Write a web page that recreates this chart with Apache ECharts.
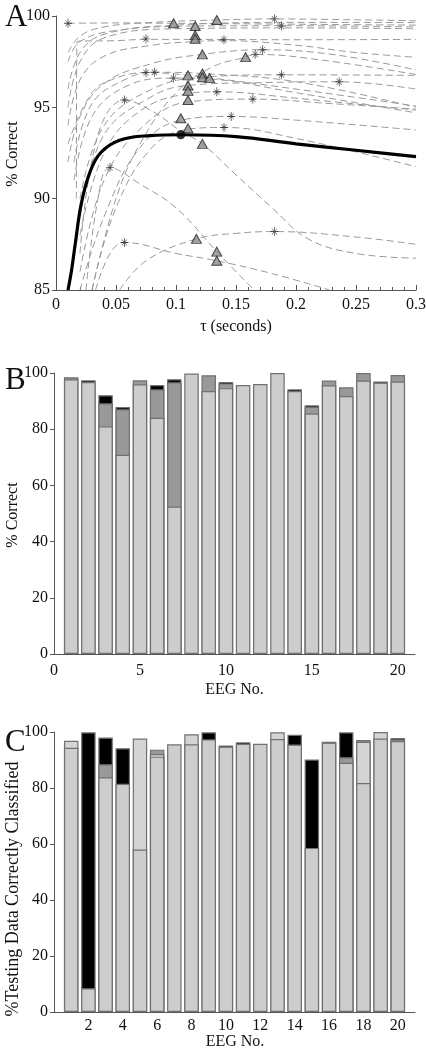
<!DOCTYPE html>
<html><head><meta charset="utf-8">
<script src="https://cdn.jsdelivr.net/npm/echarts@6/dist/echarts.min.js"></script>
<style>html,body{margin:0;padding:0;background:#fff}#c{width:426px;height:1050px}</style>
</head><body><div id="c"></div>
<script>
// ---------- Panel A data: tau (s) vs % correct ----------
const curve01 = [[0.01,99.6],[0.05,99.62],[0.1,99.6],[0.2,99.55],[0.3,99.5]];
const curve02 = [[0.01,98.0],[0.02,98.9],[0.04,99.4],[0.08,99.65],[0.134,99.78],[0.182,99.84],[0.24,99.8],[0.3,99.74]];
const curve03 = [[0.01,97.5],[0.02,98.6],[0.05,99.2],[0.116,99.45],[0.188,99.47],[0.3,99.4]];
const curve04 = [[0.01,96.0],[0.02,98.0],[0.04,99.0],[0.1,99.5],[0.2,99.65],[0.3,99.64]];
const curve05 = [[0.01,95.0],[0.02,97.5],[0.04,98.8],[0.1,99.3],[0.2,99.35],[0.3,99.3]];
const curve06 = [[0.017,90.0],[0.0175,98.6],[0.05,98.65],[0.075,98.72],[0.116,98.72],[0.2,98.7],[0.3,98.72]];
const curve07 = [[0.01,94.0],[0.02,96.5],[0.04,97.8],[0.08,98.4],[0.116,98.6],[0.14,98.65],[0.2,98.4],[0.25,98.0],[0.3,97.74]];
const curve08 = [[0.01,92.0],[0.02,94.5],[0.04,96.3],[0.08,97.4],[0.122,97.9],[0.172,98.15],[0.23,97.9],[0.3,97.05]];
const curve09 = [[0.03,85.0],[0.05,90.0],[0.07,93.0],[0.1,95.8],[0.13,97.2],[0.158,97.75],[0.166,97.9],[0.22,97.6],[0.3,96.8]];
const curve10 = [[0.01,93.0],[0.03,95.8],[0.05,96.6],[0.075,96.9],[0.11,96.75],[0.2,96.0],[0.3,95.07]];
const curve11 = [[0.015,92.0],[0.03,95.2],[0.06,96.6],[0.082,96.92],[0.122,96.85],[0.2,96.4],[0.3,95.0]];
const curve12 = [[0.015,91.0],[0.03,94.5],[0.06,96.2],[0.098,96.6],[0.128,96.55],[0.2,95.8],[0.3,94.7]];
const curve13 = [[0.02,90.0],[0.04,94.0],[0.08,96.0],[0.122,96.65],[0.188,96.78],[0.3,96.75]];
const curve14 = [[0.02,89.0],[0.04,93.5],[0.08,95.6],[0.11,96.2],[0.17,96.35],[0.236,96.4],[0.3,96.0]];
const curve15 = [[0.02,88.0],[0.04,92.5],[0.07,94.8],[0.11,95.75],[0.134,95.85],[0.2,95.5],[0.3,94.85]];
const curve16 = [[0.02,86.0],[0.04,91.0],[0.07,93.8],[0.11,95.3],[0.164,95.45],[0.23,95.2],[0.3,94.9]];
const curve17 = [[0.02,87.0],[0.035,93.5],[0.057,95.4],[0.08,94.8],[0.104,93.7],[0.122,93.0],[0.15,91.3],[0.18,89.5],[0.21,87.8],[0.25,87.0],[0.3,86.74]];
const curve18 = [[0.02,85.0],[0.04,89.0],[0.07,92.8],[0.104,94.3],[0.146,94.5],[0.2,94.3],[0.3,93.76]];
const curve19 = [[0.03,85.0],[0.05,89.5],[0.08,92.8],[0.11,93.8],[0.14,93.9],[0.2,93.3],[0.3,91.75]];
const curve20 = [[0.025,85.0],[0.035,90.0],[0.045,91.7],[0.07,90.8],[0.1,89.5],[0.134,87.1],[0.165,85.0]];
const curve21 = [[0.033,85.0],[0.045,87.0],[0.057,87.6],[0.1,87.0],[0.134,86.6],[0.18,85.9],[0.228,85.0]];
const curve22 = [[0.053,85.0],[0.075,86.6],[0.117,87.8],[0.15,88.1],[0.182,88.2],[0.25,87.9],[0.3,87.5]];
const meanCurve = [[0.01,85.0],[0.013,86.1],[0.016,87.5],[0.021,89.7],[0.028,91.4],[0.037,92.5],[0.053,93.2],[0.078,93.45],[0.105,93.5],[0.15,93.4],[0.2,93.0],[0.25,92.65],[0.3,92.3]];
const meanPeak = [[0.104,93.5]];
const triangles = [[0.098,99.6],[0.116,99.45],[0.134,99.78],[0.116,98.95],[0.116,98.75],[0.122,97.9],[0.158,97.75],
  [0.11,96.75],[0.122,96.85],[0.122,96.65],[0.128,96.6],[0.11,96.2],[0.11,95.9],[0.11,95.4],[0.104,94.4],[0.11,93.85],
  [0.122,93.0],[0.117,87.8],[0.134,87.1],[0.134,86.6]];
const asterisks = [[0.01,99.6],[0.182,99.84],[0.188,99.45],[0.075,98.75],[0.14,98.7],[0.166,97.9],[0.172,98.15],
  [0.075,96.9],[0.082,96.92],[0.098,96.6],[0.188,96.78],[0.236,96.4],[0.134,95.85],[0.164,95.45],[0.057,95.4],
  [0.146,94.5],[0.14,93.9],[0.045,91.7],[0.057,87.6],[0.182,88.2]];

// ---------- Panel B data: % correct per EEG (segment heights) ----------
const eegB = [1,2,3,4,5,6,7,8,9,10,11,12,13,14,15,16,17,18,19,20];
const bLight  = [97.8,96.8,81.0,70.9,96.0,84.1,52.5,99.8,93.6,94.6,95.7,96.1,100.0,93.6,85.6,95.6,91.8,97.3,96.6,97.0];
const bMedium = [0.7,0,8.2,16.2,1.4,10.1,44.2,0,5.6,1.7,0,0,0,0,2.4,1.7,3.1,2.7,0,2.3];
const bBlack  = [0,0.6,2.9,0.8,0,1.5,1.1,0,0,0.5,0,0,0,0.6,0.5,0,0,0,0.4,0];

// ---------- Panel C data: % testing data correctly classified (segment heights) ----------
const eegC = [1,2,3,4,5,6,7,8,9,10,11,12,13,14,15,16,17,18,19,20];
const cLight  = [94.4,8.5,83.8,81.5,58.0,91.2,95.6,95.6,97.4,94.8,95.8,95.8,97.5,95.5,58.6,96.2,89.0,81.8,97.7,96.8];
const cLight2 = [2.5,0,0,0,39.7,0.9,0,3.6,0,0,0,0,2.4,0,0,0,0,14.7,2.3,0];
const cMedium = [0,0,4.7,0,0,1.6,0,0,0,0,0,0,0,0,0,0,2.0,0.6,0,0.6];
const cBlack  = [0,91.4,9.5,12.7,0,0,0,0,2.5,0.4,0.5,0,0,3.5,31.6,0.3,8.9,0,0,0.5];

// ---------- Build chart ----------
const serif = '"Liberation Serif", "DejaVu Serif", serif';
const curves = [curve01,curve02,curve03,curve04,curve05,curve06,curve07,curve08,curve09,curve10,curve11,
  curve12,curve13,curve14,curve15,curve16,curve17,curve18,curve19,curve20,curve21,curve22];
const asteriskPath = 'path://M9,0 L11,0 L11,8 L16,3 L17,4 L12,9 L20,9 L20,11 L12,11 L17,16 L16,17 L11,12 L11,20 L9,20 L9,12 L4,17 L3,16 L8,11 L0,11 L0,9 L8,9 L3,4 L4,3 L9,8 Z';
const lbl = {color:'#111', fontFamily:serif, fontSize:16};
const nameStyle = {color:'#111', fontFamily:serif, fontSize:16};

const series = [];
curves.forEach(c => series.push({type:'line', xAxisIndex:0, yAxisIndex:0, data:c, smooth:0.4, showSymbol:false,
  lineStyle:{color:'#9a9a9a', width:1, type:[7,4]}, silent:true, z:2}));
series.push({type:'line', xAxisIndex:0, yAxisIndex:0, data:meanCurve, smooth:0.4, showSymbol:false,
  lineStyle:{color:'#000', width:3.2}, z:3});
series.push({type:'scatter', xAxisIndex:0, yAxisIndex:0, data:triangles, symbol:'triangle', symbolSize:[10,9],
  itemStyle:{color:'#8a8a8a', borderColor:'#222', borderWidth:1}, z:4});
series.push({type:'scatter', xAxisIndex:0, yAxisIndex:0, data:asterisks, symbol:asteriskPath, symbolSize:[8,9],
  itemStyle:{color:'#222'}, z:5});
series.push({type:'scatter', xAxisIndex:0, yAxisIndex:0, data:meanPeak, symbol:'circle', symbolSize:9,
  itemStyle:{color:'#000'}, z:6});

// stacked bars drawn as overlapping cumulative bars (top segment first, base segment last)
function stackedBars(axisIdx, xs, segs, colors){
  const cum = [];
  segs.forEach((s, k) => cum.push(s.map((v, i) => (k ? cum[k-1][i] : 0) + v)));
  for (let k = segs.length - 1; k >= 0; k--) {
    series.push({type:'bar', xAxisIndex:axisIdx, yAxisIndex:axisIdx, barWidth:14.5, barGap:'-100%',
      data: xs.map((x, i) => [x, segs[k][i] === 0 ? '-' : +cum[k][i].toFixed(2)]),
      itemStyle:{color:colors[k], borderColor:'#707070', borderWidth:1.2}, z:2 + (segs.length - k)});
  }
}
stackedBars(1, eegB, [bLight, bMedium, bBlack], ['#cdcdcd', '#999999', '#000000']);
stackedBars(2, eegC, [cLight, cLight2, cMedium, cBlack], ['#cdcdcd', '#d4d4d4', '#999999', '#000000']);

const axLine = {show:true, onZero:false, lineStyle:{color:'#555', width:1}};
const gridBase = {containLabel:false, outerBoundsMode:'none'};
const vText = (txt, x, y, size) => ({type:'text', x:x, y:y, rotation:Math.PI/2,
  style:{text:txt, font:size + 'px ' + serif, fill:'#111', align:'center', verticalAlign:'middle'}});
const option = {
  animation:false,
  backgroundColor:'#fff',
  title:[
    {text:'A', left:0, top:-3, textStyle:{fontFamily:serif, fontSize:31, fontWeight:'normal', color:'#111'}},
    {text:'B', left:0, top:360, textStyle:{fontFamily:serif, fontSize:31, fontWeight:'normal', color:'#111'}},
    {text:'C', left:0, top:722, textStyle:{fontFamily:serif, fontSize:31, fontWeight:'normal', color:'#111'}}
  ],
  graphic:[
    vText('% Correct', 13, 154, 16),
    vText('% Correct', 13, 515, 16),
    vText('%Testing Data Correctly Classified', 13, 889, 18),
    {type:'text', x:235, y:1042, style:{text:'EEG No.', font:'16px ' + serif, fill:'#111', align:'center', verticalAlign:'middle'}}
  ],
  grid:[
    Object.assign({left:56, top:16, width:360, height:274}, gridBase),
    Object.assign({left:54, top:373, width:361, height:281}, gridBase),
    Object.assign({left:54, top:732, width:361, height:280}, gridBase)
  ],
  xAxis:[
    {gridIndex:0, type:'value', min:0, max:0.3, interval:0.05, name:'τ (seconds)', nameLocation:'middle', nameGap:29, nameTextStyle:nameStyle,
      axisLine:axLine, axisTick:{inside:true, length:5, lineStyle:{color:'#555'}},
      minorTick:{show:true, splitNumber:5, length:3, lineStyle:{color:'#555'}},
      axisLabel:Object.assign({margin:7}, lbl), splitLine:{show:false}},
    {gridIndex:1, type:'value', min:0, max:21, interval:5, name:'EEG No.', nameLocation:'middle', nameGap:28, nameTextStyle:nameStyle,
      axisLine:axLine, axisTick:{show:false},
      axisLabel:Object.assign({margin:9, showMaxLabel:false}, lbl), splitLine:{show:false}},
    {gridIndex:2, type:'value', min:0, max:21, interval:2,
      axisLine:axLine, axisTick:{show:false},
      axisLabel:Object.assign({margin:6, showMaxLabel:false, showMinLabel:false}, lbl), splitLine:{show:false}}
  ],
  yAxis:[
    {gridIndex:0, type:'value', min:85, max:100, interval:5,
      axisLine:axLine, axisTick:{show:true, length:4, lineStyle:{color:'#555'}},
      axisLabel:Object.assign({margin:6}, lbl), splitLine:{show:false}},
    {gridIndex:1, type:'value', min:0, max:100, interval:20,
      axisLine:axLine, axisTick:{show:true, length:4, lineStyle:{color:'#555'}},
      axisLabel:Object.assign({margin:6}, lbl), splitLine:{show:false}},
    {gridIndex:2, type:'value', min:0, max:100, interval:20,
      axisLine:axLine, axisTick:{show:true, length:4, lineStyle:{color:'#555'}},
      axisLabel:Object.assign({margin:6}, lbl), splitLine:{show:false}}
  ],
  series:series
};
echarts.init(document.getElementById('c'), null, {renderer:'canvas'}).setOption(option);
</script>
</body></html>
